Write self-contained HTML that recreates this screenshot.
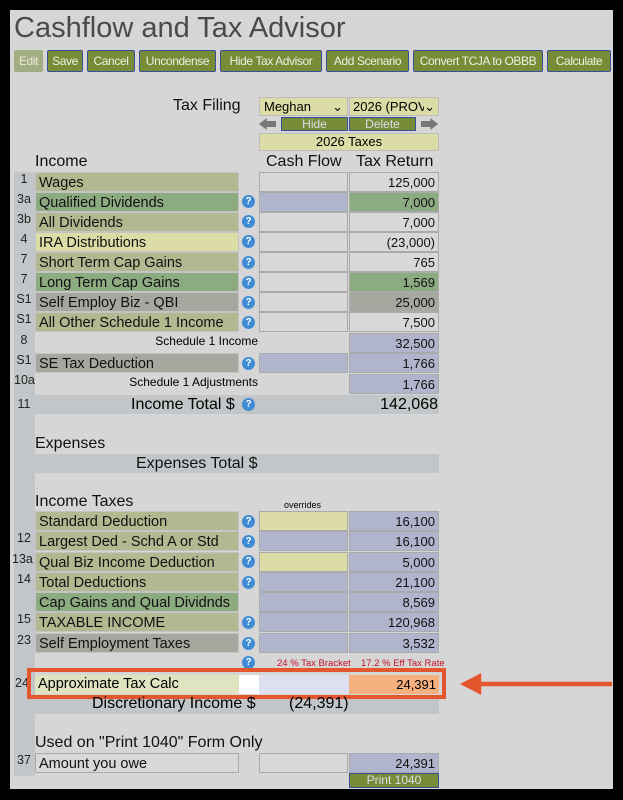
<!DOCTYPE html>
<html><head><meta charset="utf-8"><style>
body{margin:0;width:623px;height:800px;background:#000;position:relative;overflow:hidden;font-family:"Liberation Sans",sans-serif;}
.p{position:absolute;left:10px;top:10px;width:603px;height:779px;background:#d6d6d6;}
.a{position:absolute;box-sizing:border-box;white-space:nowrap;}
.btn{position:absolute;top:50px;height:22px;background:#788c38;border:1px solid #3a4f9a;color:#eef0e0;font-size:12px;letter-spacing:-0.4px;line-height:20px;text-align:center;box-sizing:border-box;border-radius:2px;white-space:nowrap;overflow:hidden}
.n{font-size:12.5px;color:#222;width:20px;text-align:center}
.l{left:35px;width:204px;height:20px;font-size:14.5px;line-height:20px;padding-left:3px;color:#111;border:1px solid #c4c4c4}
.c{left:259px;width:89px;height:20px;border:1px solid #aaa;background:#d8d8d8}
.t{left:349px;width:90px;height:20px;border:1px solid #aaa;background:#d8d8d8;font-size:13px;text-align:right;padding-right:3px;line-height:20px;color:#111}
.q{width:13px;height:13px;border-radius:50%;background:#3f8bd6;color:#fff;font-size:10px;line-height:13px;text-align:center;font-weight:bold;left:242px}
.g{background:#b2b890}.gg{background:#8cab80}.y{background:#dcdca6}.gr{background:#a6a8a0}.b{background:#b0b4cc}
.h{font-size:16px;color:#111}
</style></head><body>
<div class="p"></div>
<div class="a" style="left:14px;top:12px;font-size:29px;color:#4a4a4a">Cashflow and Tax Advisor</div>
<div class="btn" style="left:14px;width:29px;background:#a3ad82;border-color:#a3ad82;color:#e8ead8">Edit</div>
<div class="btn" style="left:47px;width:36px">Save</div>
<div class="btn" style="left:87px;width:48px">Cancel</div>
<div class="btn" style="left:139px;width:77px">Uncondense</div>
<div class="btn" style="left:220px;width:102px">Hide Tax Advisor</div>
<div class="btn" style="left:326px;width:83px">Add Scenario</div>
<div class="btn" style="left:413px;width:130px">Convert TCJA to OBBB</div>
<div class="btn" style="left:547px;width:64px">Calculate</div>
<div class="a" style="left:173px;top:97px;font-size:16px;color:#111">Tax Filing</div>
<div class="a" style="left:259px;top:97px;width:89px;height:19px;background:#dcdca6;border:1px solid #bbb;font-size:13px;padding-left:4px;line-height:17px">Meghan <span style="position:absolute;right:4px">⌄</span></div>
<div class="a" style="left:349px;top:97px;width:90px;height:19px;background:#dcdca6;border:1px solid #bbb;font-size:13px;padding-left:3px;line-height:17px;overflow:hidden">2026 (PROV) <span style="position:absolute;right:3px;background:#dcdca6">⌄</span></div>
<div class="a" style="left:259px;top:118px;width:17px;height:12px;background:#777;clip-path:polygon(0 50%,45% 0,45% 25%,100% 25%,100% 75%,45% 75%,45% 100%)"></div>
<div class="a" style="left:421px;top:118px;width:17px;height:12px;background:#777;clip-path:polygon(100% 50%,55% 0,55% 25%,0 25%,0 75%,55% 75%,55% 100%)"></div>
<div class="a" style="left:281px;top:117px;width:67px;height:14px;background:#788c38;border:1px solid #3a4f9a;color:#dde;font-size:12px;text-align:center;line-height:12px">Hide</div>
<div class="a" style="left:349px;top:117px;width:67px;height:14px;background:#788c38;border:1px solid #3a4f9a;color:#dde;font-size:12px;text-align:center;line-height:12px">Delete</div>
<div class="a" style="left:259px;top:133px;width:180px;height:18px;background:#dcdca6;border:1px solid #bbb;font-size:13px;text-align:center;line-height:16px">2026 Taxes</div>
<div class="a h" style="left:35px;top:153px">Income</div>
<div class="a h" style="left:266px;top:153px">Cash Flow</div>
<div class="a h" style="left:356px;top:153px">Tax Return</div>
<div class="a" style="left:14px;top:172px;width:21px;height:604px;background:#c2c6c8"></div>

<div class="a n" style="left:14px;top:172px">1</div><div class="a l g" style="top:172px">Wages</div><div class="a c" style="top:172px"></div><div class="a t" style="top:172px">125,000</div>
<div class="a n" style="left:14px;top:192px">3a</div><div class="a l gg" style="top:192px">Qualified Dividends</div><div class="a q" style="top:195px">?</div><div class="a c b" style="top:192px"></div><div class="a t gg" style="top:192px">7,000</div>
<div class="a n" style="left:14px;top:212px">3b</div><div class="a l g" style="top:212px">All Dividends</div><div class="a q" style="top:215px">?</div><div class="a c" style="top:212px"></div><div class="a t" style="top:212px">7,000</div>
<div class="a n" style="left:14px;top:232px">4</div><div class="a l y" style="top:232px">IRA Distributions</div><div class="a q" style="top:235px">?</div><div class="a c" style="top:232px"></div><div class="a t" style="top:232px">(23,000)</div>
<div class="a n" style="left:14px;top:252px">7</div><div class="a l g" style="top:252px">Short Term Cap Gains</div><div class="a q" style="top:256px">?</div><div class="a c" style="top:252px"></div><div class="a t" style="top:252px">765</div>
<div class="a n" style="left:14px;top:272px">7</div><div class="a l gg" style="top:272px">Long Term Cap Gains</div><div class="a q" style="top:276px">?</div><div class="a c" style="top:272px"></div><div class="a t gg" style="top:272px">1,569</div>
<div class="a n" style="left:14px;top:292px">S1</div><div class="a l gr" style="top:292px">Self Employ Biz - QBI</div><div class="a q" style="top:296px">?</div><div class="a c" style="top:292px"></div><div class="a t gr" style="top:292px">25,000</div>
<div class="a n" style="left:14px;top:312px">S1</div><div class="a l g" style="top:312px">All Other Schedule 1 Income</div><div class="a q" style="top:316px">?</div><div class="a c" style="top:312px"></div><div class="a t" style="top:312px">7,500</div>
<div class="a n" style="left:14px;top:333px">8</div><div class="a" style="left:35px;top:334px;width:223px;text-align:right;font-size:12px">Schedule 1 Income</div><div class="a t b" style="top:333px">32,500</div>
<div class="a n" style="left:14px;top:353px">S1</div><div class="a l gr" style="top:353px">SE Tax Deduction</div><div class="a q" style="top:357px">?</div><div class="a c b" style="top:353px"></div><div class="a t b" style="top:353px">1,766</div>
<div class="a n" style="left:14px;top:373px">10a</div><div class="a" style="left:35px;top:375px;width:223px;text-align:right;font-size:12px">Schedule 1 Adjustments</div><div class="a t b" style="top:374px">1,766</div>
<div class="a" style="left:35px;top:395px;width:404px;height:19px;background:#c2c6c8"></div>
<div class="a n" style="left:14px;top:397px">11</div>
<div class="a" style="left:131px;top:396px;font-size:16px">Income Total $</div><div class="a q" style="top:398px;left:242px">?</div>
<div class="a" style="left:340px;top:396px;width:98px;text-align:right;font-size:16px">142,068</div>
<div class="a h" style="left:35px;top:435px">Expenses</div>
<div class="a" style="left:35px;top:454px;width:404px;height:19px;background:#c2c6c8"></div>
<div class="a h" style="left:136px;top:455px">Expenses Total $</div>
<div class="a h" style="left:35px;top:493px">Income Taxes</div>
<div class="a" style="left:284px;top:500px;font-size:9px">overrides</div>
<div class="a l g" style="top:511px">Standard Deduction</div><div class="a q" style="top:515px">?</div><div class="a c y" style="top:511px"></div><div class="a t b" style="top:511px">16,100</div>
<div class="a n" style="left:14px;top:531px">12</div><div class="a l g" style="top:531px">Largest Ded - Schd A or Std</div><div class="a q" style="top:535px">?</div><div class="a c b" style="top:531px"></div><div class="a t b" style="top:531px">16,100</div>
<div class="a n" style="left:12px;top:552px">13a</div><div class="a l g" style="top:552px">Qual Biz Income Deduction</div><div class="a q" style="top:555px">?</div><div class="a c y" style="top:552px"></div><div class="a t b" style="top:552px">5,000</div>
<div class="a n" style="left:14px;top:572px">14</div><div class="a l g" style="top:572px">Total Deductions</div><div class="a q" style="top:576px">?</div><div class="a c b" style="top:572px"></div><div class="a t b" style="top:572px">21,100</div>
<div class="a l gg" style="top:592px">Cap Gains and Qual Dividnds</div><div class="a c b" style="top:592px"></div><div class="a t b" style="top:592px">8,569</div>
<div class="a n" style="left:14px;top:612px">15</div><div class="a l g" style="top:612px">TAXABLE INCOME</div><div class="a q" style="top:616px">?</div><div class="a c b" style="top:612px"></div><div class="a t b" style="top:612px">120,968</div>
<div class="a n" style="left:14px;top:633px">23</div><div class="a l gr" style="top:633px">Self Employment Taxes</div><div class="a q" style="top:637px">?</div><div class="a c b" style="top:633px"></div><div class="a t b" style="top:633px">3,532</div>
<div class="a q" style="top:656px">?</div>
<div class="a" style="left:277px;top:658px;font-size:9.5px;color:#c0102a">24 % Tax Bracket</div>
<div class="a" style="left:361px;top:658px;font-size:9.5px;color:#c0102a">17.2 % Eff Tax Rate</div>
<div class="a n" style="left:12px;top:676px">24</div>
<div class="a" style="left:27px;top:668px;width:419px;height:31px;border:4px solid #e4572e"></div>
<div class="a" style="left:35px;top:675px;width:204px;height:19px;background:#dde4bf;font-size:14.5px;line-height:19px;padding-left:3px">Approximate Tax Calc</div>
<div class="a" style="left:239px;top:675px;width:20px;height:19px;background:#fff"></div>
<div class="a" style="left:259px;top:675px;width:90px;height:19px;background:#dde0f0"></div>
<div class="a" style="left:349px;top:675px;width:90px;height:19px;background:#f4b07e;font-size:13px;text-align:right;padding-right:3px;line-height:19px">24,391</div>
<div class="a" style="left:460px;top:673px;width:152px;height:22px;background:#e4572e;clip-path:polygon(0 50%,14% 0,14% 40%,100% 40%,100% 60%,14% 60%,14% 100%)"></div>
<div class="a" style="left:35px;top:699px;width:404px;height:15px;background:#c2c6c8"></div>
<div class="a" style="left:92px;top:695px;font-size:16px">Discretionary Income $</div>
<div class="a" style="left:289px;top:695px;font-size:16px">(24,391)</div>
<div class="a h" style="left:35px;top:734px">Used on "Print 1040" Form Only</div>
<div class="a n" style="left:14px;top:753px">37</div><div class="a l" style="top:753px;background:#d8d8d8;border-color:#aaa">Amount you owe</div><div class="a c" style="top:753px"></div><div class="a t b" style="top:753px">24,391</div>
<div class="a" style="left:349px;top:773px;width:90px;height:15px;background:#788c38;border:1px solid #3a4f9a;color:#dde;font-size:12px;text-align:center;line-height:13px">Print 1040</div>
</body></html>
